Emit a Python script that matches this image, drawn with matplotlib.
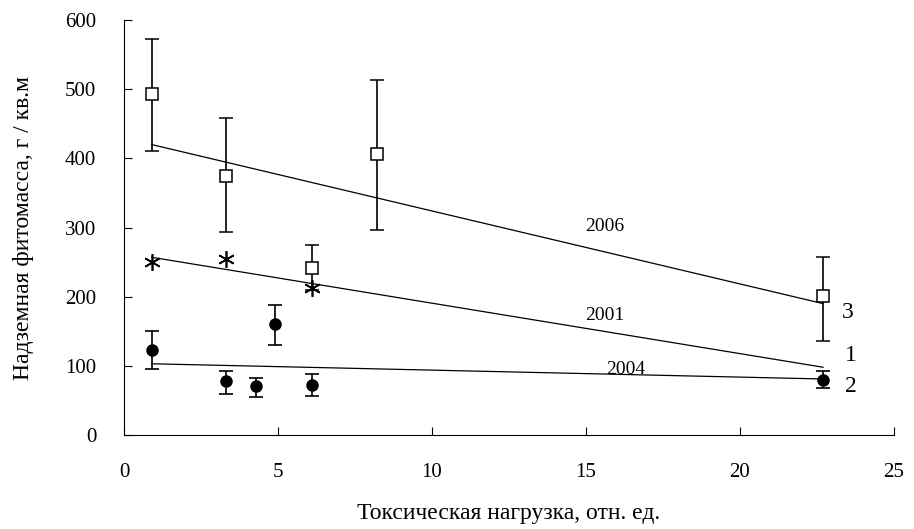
import numpy as np
import matplotlib.pyplot as plt

plt.rcParams['font.family'] = ['Liberation Serif', 'DejaVu Serif']

# 2006 (squares, curve 3)
x_2006 = [0.9, 3.3, 6.1, 8.2, 22.7]
y_2006 = [493, 375, 242, 407, 201]
lo_2006 = [410, 293, 209, 297, 136]
hi_2006 = [572, 459, 275, 513, 258]

# 2001 (asterisks, curve 1)
x_2001 = [0.9, 3.3, 6.1]
y_2001 = [250, 255, 212]

# 2004 (filled circles, curve 2)
x_2004 = [0.9, 3.3, 4.3, 4.9, 6.1, 22.7]
y_2004 = [123, 78, 71, 160, 72, 80]
lo_2004 = [95, 60, 55, 130, 57, 68]
hi_2004 = [150, 93, 83, 188, 88, 93]

# trend lines (start/end)
trend_x = [0.9, 22.7]
trend_2006 = [420, 190]
trend_2001 = [257, 98]
trend_2004 = [103, 81]

fig = plt.figure(figsize=(9.14, 5.29), dpi=100)
ax = fig.add_axes([0.1357, 0.1777, 0.8423, 0.7843])

def yerr(y, lo, hi):
	y = np.array(y)
	return [y - np.array(lo), np.array(hi) - y]

ax.plot(trend_x, trend_2006, color='black', lw=0.9)
ax.plot(trend_x, trend_2001, color='black', lw=0.9)
ax.plot(trend_x, trend_2004, color='black', lw=0.9)

ax.errorbar(x_2006, y_2006, yerr=yerr(y_2006, lo_2006, hi_2006), fmt='s',
			mfc='white', mec='black', ms=8, color='black', ecolor='black',
			elinewidth=1.2, capsize=5, capthick=1.2, mew=1.1)
ax.plot(x_2001, y_2001, linestyle='none', marker=(6, 2, 0), ms=12,
		color='black', mew=1.2)
ax.errorbar(x_2004, y_2004, yerr=yerr(y_2004, lo_2004, hi_2004), fmt='o',
			mfc='black', mec='black', ms=8, color='black', ecolor='black',
			elinewidth=1.2, capsize=5, capthick=1.2)

ax.text(15.6, 302, '2006', fontsize=14, ha='center', va='center')
ax.text(15.6, 173, '2001', fontsize=14, ha='center', va='center')
ax.text(16.3, 95, '2004', fontsize=14, ha='center', va='center')
ax.text(23.5, 177, '3', fontsize=17, ha='center', va='center')
ax.text(23.6, 115, '1', fontsize=17, ha='center', va='center')
ax.text(23.6, 70, '2', fontsize=17, ha='center', va='center')

ax.set_xlim(0, 25)
ax.set_ylim(0, 600)
ax.set_xticks([0, 5, 10, 15, 20, 25])
ax.set_yticks([0, 100, 200, 300, 400, 500, 600])
ax.spines['top'].set_visible(False)
ax.spines['right'].set_visible(False)
ax.tick_params(axis='both', direction='in', length=6, labelsize=15)
ax.tick_params(axis='x', pad=20)
ax.tick_params(axis='y', pad=20)

ax.set_xlabel('Токсическая нагрузка, отн. ед.', fontsize=17, labelpad=15)
ax.set_ylabel('Надземная фитомасса, г / кв.м', fontsize=17, labelpad=22)

fig.savefig('out.png', dpi=100)
